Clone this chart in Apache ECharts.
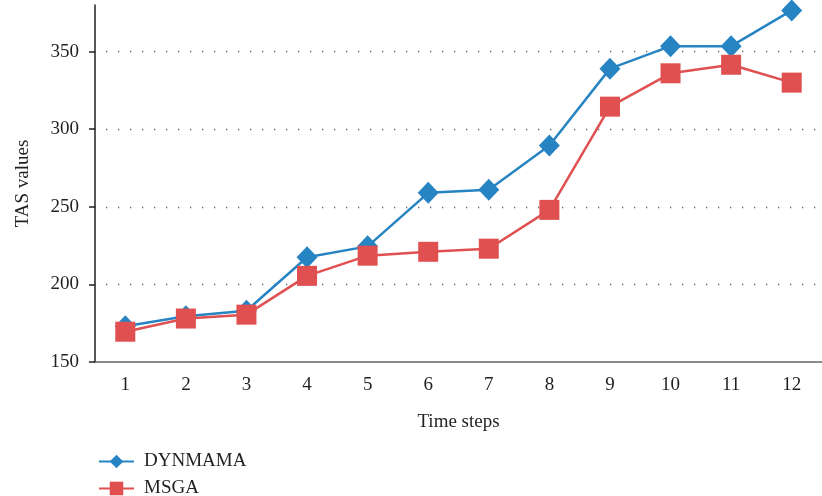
<!DOCTYPE html>
<html>
<head>
<meta charset="utf-8">
<script src="https://cdn.jsdelivr.net/npm/echarts@6/dist/echarts.min.js"></script>
<style>html,body{margin:0;padding:0;background:#fff}#c{width:822px;height:496px}</style>
</head>
<body>
<div id="c"></div>
<script>
const categories = ['1','2','3','4','5','6','7','8','9','10','11','12'];
const dynmama = [173, 179.5, 183, 217.5, 224.5, 259, 261, 289.5, 339, 353.5, 353.5, 376.5];
const msga = [169.5, 178, 180.5, 205.5, 218.5, 221, 223, 248, 314.5, 336, 341.5, 330];
const yTicks = [150, 200, 250, 300, 350];
const seriesNames = ['DYNMAMA', 'MSGA'];

const FONT = '"Liberation Serif", "DejaVu Serif", serif';
const chart = echarts.init(document.getElementById('c'));
chart.setOption({
  animation: false,
  textStyle: { fontFamily: FONT },
  grid: { left: 95, right: 0, top: 5, bottom: 134 },
  legend: {
    orient: 'vertical', left: 93, top: 447, height: 70,
    itemWidth: 35, itemHeight: 17, itemGap: 8,
    textStyle: { fontFamily: FONT, fontSize: 19, color: '#231f20', padding: [0, 0, 0, 5] },
    data: seriesNames
  },
  xAxis: {
    type: 'category', data: categories, boundaryGap: true,
    name: 'Time steps', nameLocation: 'middle', nameGap: 51,
    nameTextStyle: { fontFamily: FONT, fontSize: 19, color: '#231f20' },
    axisLine: { lineStyle: { color: '#666', width: 1.5 } },
    axisTick: { show: false },
    axisLabel: { margin: 14, fontFamily: FONT, fontSize: 19, color: '#231f20' }
  },
  yAxis: {
    type: 'value', min: 150, max: 380, interval: 50,
    name: 'TAS values', nameLocation: 'middle', nameGap: 62,
    nameTextStyle: { fontFamily: FONT, fontSize: 19, color: '#231f20' },
    axisLine: { show: true, lineStyle: { color: '#231f20', width: 1.5 } },
    axisTick: { show: true, length: 6, customValues: yTicks, lineStyle: { color: '#231f20', width: 1.5 } },
    axisLabel: { margin: 16, customValues: yTicks, fontFamily: FONT, fontSize: 19, color: '#231f20' },
    splitLine: { show: true, showMinLine: false, showMaxLine: true, lineStyle: { color: '#666', width: 1.3, type: [1.3, 10.7], dashOffset: -11 } }
  },
  series: [
    {
      name: seriesNames[0], type: 'line', data: dynmama,
      symbol: 'diamond', symbolSize: [21, 22], showAllSymbol: true,
      lineStyle: { color: '#2784c3', width: 2.5 },
      itemStyle: { color: '#2784c3' }
    },
    {
      name: seriesNames[1], type: 'line', data: msga,
      symbol: 'rect', symbolSize: 20, showAllSymbol: true,
      lineStyle: { color: '#e05050', width: 2.5 },
      itemStyle: { color: '#e05050' }
    }
  ]
});
</script>
</body>
</html>
